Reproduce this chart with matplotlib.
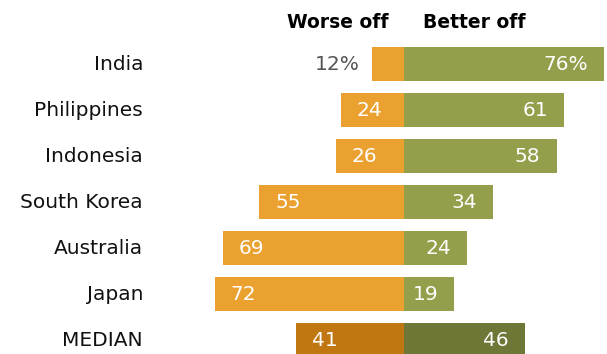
import matplotlib.pyplot as plt
import matplotlib.transforms as mtransforms

countries = ["India", "Philippines", "Indonesia", "South Korea", "Australia", "Japan", "MEDIAN"]
worse = [12, 24, 26, 55, 69, 72, 41]
better = [76, 61, 58, 34, 24, 19, 46]

orange = "#EAA12F"
green = "#959F4B"
orange_dark = "#C07712"
green_dark = "#6F7736"

W, H = 607, 354
fig = plt.figure(figsize=(W / 100, H / 100), dpi=100)
ax = fig.add_axes([0, 0, 1, 1])

# pixel layout
center_px = 404
px_per_unit = 2.63
row0_px = 64
row_step = 46

ax.set_xlim(-center_px / px_per_unit, (W - center_px) / px_per_unit)
ax.set_ylim((H - row0_px) / row_step, -row0_px / row_step)
ax.axis("off")

y = list(range(len(countries)))
wc = [orange] * (len(countries) - 1) + [orange_dark]
bc = [green] * (len(countries) - 1) + [green_dark]

ax.barh(y, [-w for w in worse], height=0.76, color=wc, edgecolor="none")
ax.barh(y, better, height=0.76, color=bc, edgecolor="none")

fs = 14.5
pad = 16 / px_per_unit
for i, (w, b) in enumerate(zip(worse, better)):
    ws = f"{w}%" if i == 0 else str(w)
    bs = f"{b}%" if i == 0 else str(b)
    if w < 20:
        ax.text(-w - 13 / px_per_unit, i, ws, ha="right", va="center",
                color="#555555", fontsize=fs)
    else:
        ax.text(-w + pad, i, ws, ha="left", va="center", color="white", fontsize=fs)
    ax.text(b - pad, i, bs, ha="right", va="center", color="white", fontsize=fs)

trans = mtransforms.blended_transform_factory(ax.transAxes, ax.transData)
for i, c in enumerate(countries):
    ax.text(143 / W, i, c, ha="right", va="center", color="#111111",
            fontsize=fs, transform=trans)

hy = (22 - row0_px) / row_step
ax.text(-16 / px_per_unit, hy, "Worse off", ha="right", va="center",
        fontsize=13.5, fontweight="bold")
ax.text(19 / px_per_unit, hy, "Better off", ha="left", va="center",
        fontsize=13.5, fontweight="bold")

fig.savefig("out.png", dpi=100)
